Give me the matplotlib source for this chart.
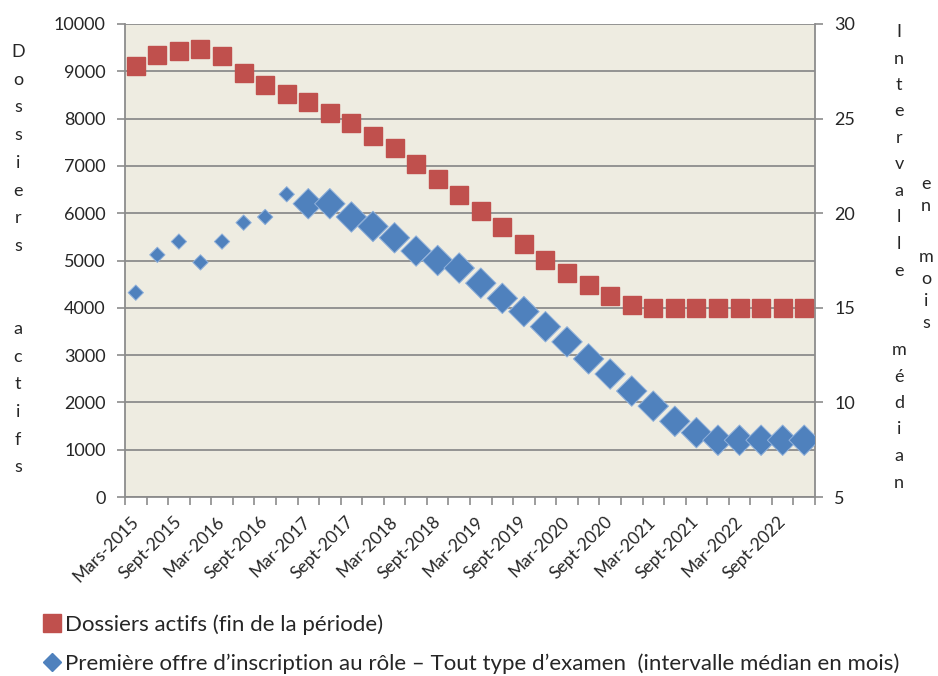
import numpy as np
import matplotlib.pyplot as plt
from matplotlib.lines import Line2D

plt.rcParams['font.family'] = ['Lato', 'DejaVu Sans']

# quarterly categories, Mar 2015 .. Dec 2022
labels = ["Mars-2015", "Sept-2015", "Mar-2016", "Sept-2016", "Mar-2017",
          "Sept-2017", "Mar-2018", "Sept-2018", "Mar-2019", "Sept-2019",
          "Mar-2020", "Sept-2020", "Mar-2021", "Sept-2021", "Mar-2022",
          "Sept-2022"]

dossiers_actifs = [9120, 9340, 9430, 9470, 9320, 8970, 8710, 8520,
                   8360, 8120, 7900, 7630, 7370, 7030, 6730, 6380,
                   6040, 5700, 5350, 5010, 4740, 4480, 4250, 4060,
                   4000, 4000, 4000, 4000, 4000, 4000, 4000, 4000]

intervalle_median = [15.8, 17.8, 18.5, 17.4, 18.5, 19.5, 19.8, 21.0,
                     20.5, 20.5, 19.8, 19.3, 18.7, 18.0, 17.5, 17.1,
                     16.3, 15.5, 14.8, 14.0, 13.2, 12.3, 11.5, 10.6,
                     9.8, 9.0, 8.4, 8.0, 8.0, 8.0, 8.0, 8.0]

RED = "#C0504D"
BLUE = "#4F81BD"
GRID = "#8C8C8C"
TXT = "#262626"

n = len(dossiers_actifs)
x = np.arange(n)

fig = plt.figure(figsize=(9.38, 6.76), dpi=100)
ax = fig.add_axes([125 / 938, 1 - 497 / 676, 690 / 938, 473 / 676])
ax.set_facecolor("#EEECE1")

ax.plot(x, dossiers_actifs, ls="none", marker="s", ms=12.8, color=RED,
        zorder=3)
ax.set_xlim(-0.5, n - 0.5)
ax.set_ylim(0, 10000)
ax.set_yticks(np.arange(0, 10001, 1000))
ax.yaxis.grid(True, color=GRID, lw=1.3)
ax.set_axisbelow(True)

ax.set_xticks(np.arange(0, 31, 2))
ax.set_xticklabels(labels, rotation=45, ha="right", va="center",
                   rotation_mode="anchor", fontsize=12.5, color=TXT)
ax.set_xticks(np.arange(-0.5, n, 1), minor=True)
ax.tick_params(axis="x", which="major", length=0, pad=16)
ax.tick_params(axis="x", which="minor", length=6, width=1.2, color=GRID)
ax.tick_params(axis="y", length=6, width=1.2, color=GRID, labelsize=13,
               labelcolor=TXT, pad=8)

for side in ["left", "bottom", "right"]:
    ax.spines[side].set_color(GRID)
    ax.spines[side].set_linewidth(1.3)
ax.spines["top"].set_visible(False)

ax2 = ax.twinx()
sizes = np.where(x < 8, 7.8, 15.5) ** 2
ax2.scatter(x, intervalle_median, marker="D", s=sizes, color=BLUE,
            edgecolors="#8FB0DA", linewidths=0.7, zorder=4)
ax2.set_ylim(5, 30)
ax2.set_yticks(np.arange(5, 31, 5))
ax2.tick_params(axis="y", length=6, width=1.2, color=GRID, labelsize=13,
                labelcolor=TXT, pad=8)
for side in ["left", "bottom", "right", "top"]:
    ax2.spines[side].set_visible(False)


def stacked(text, xpx, ytop, step, size=13):
    # one character per row, like a vertical stacked axis title
    for i, ch in enumerate(text):
        if ch == " ":
            continue
        fig.text(xpx / 938, 1 - (ytop + i * step) / 676, ch, ha="center",
                 va="center", fontsize=size, color=TXT)


stacked("Dossiers  actifs", 18, 52, 27.7)
stacked("Intervalle  médian", 899, 32, 26.5)
stacked("en", 926, 184, 22)
stacked("mois", 926, 257, 22)

handles = [
    Line2D([], [], ls="none", marker="s", ms=13, color=RED),
    Line2D([], [], ls="none", marker="D", ms=9, color=BLUE),
]
names = ["Dossiers actifs (fin de la période)",
         "Première offre d’inscription au rôle – Tout type d’examen  "
         "(intervalle médian en mois)"]
fig.legend(handles, names, loc="upper left",
           bbox_to_anchor=(43 / 938, 1 - 614 / 676), frameon=False,
           fontsize=16, handlelength=0.85, handletextpad=0.15,
           labelspacing=0.85, borderaxespad=0, borderpad=0,
           labelcolor=TXT)

fig.savefig("out.png", dpi=100)
